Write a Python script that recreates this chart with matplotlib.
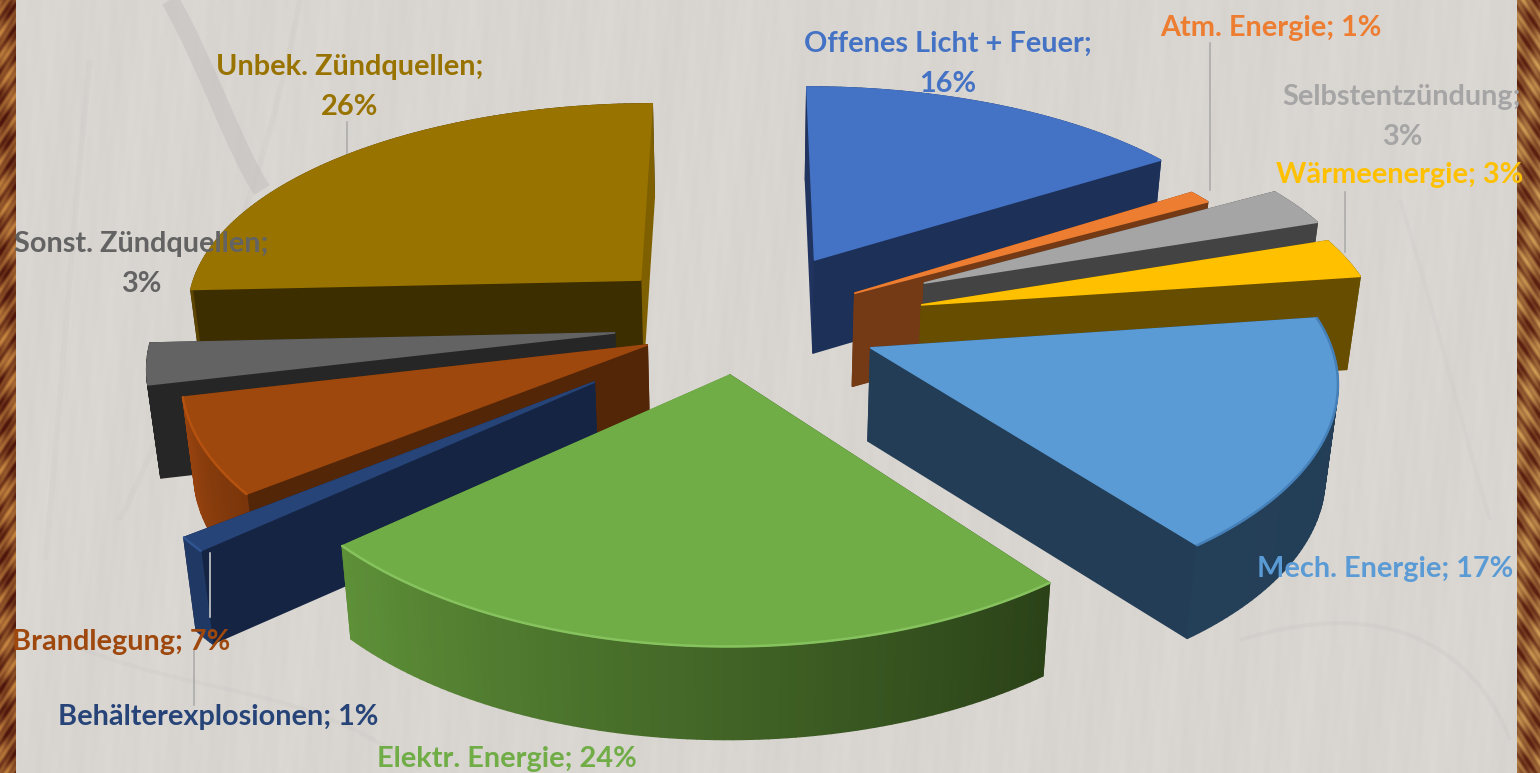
import numpy as np
import matplotlib
matplotlib.use("Agg")
import matplotlib.pyplot as plt
from matplotlib.colors import to_rgb
from matplotlib.patches import Polygon, PathPatch
from matplotlib.path import Path

# ---- data ----
categories = ["Offenes Licht + Feuer", "Atm. Energie", "Selbstentzündung", "Wärmeenergie",
              "Mech. Energie", "Elektr. Energie", "Behälterexplosionen", "Brandlegung",
              "Sonst. Zündquellen", "Unbek. Zündquellen"]
values = [16, 1, 3, 3, 17, 24, 1, 7, 3, 26]

# ---- style ----
explode = [0.295, 0.255, 0.416, 0.383, 0.311, 0.283, 0.44, 0.255, 0.293, 0.275]
explode_dir = [31.6, 69.6, 70.7, 85.0, 121.6, 186.3, 225.0, 234.0, 250.9, 303.6]
radius = [0.99, 0.95, 0.96, 0.98, 0.97, 0.98, 0.96, 0.97, 0.98, 0.98]
top_col = ["#4472c4", "#ed7d31", "#a5a5a5", "#ffc000", "#5b9bd5", "#70ad47", "#264478", "#9e480e", "#636363", "#997300"]
face_col = ["#20345f", "#743a16", "#434343", "#664d00", "#223d55", "#2c4319", "#142442", "#542608", "#262626", "#3d2e00"]
end_col = ["#1d3058", "#743a16", "#434343", "#664d00", "#223d55", "#5b8c39", "#142442", "#542608", "#262626", "#7f6000"]
outer_a = ["#20345f", "#743a16", "#434343", "#664d00", "#223d55", "#2b4218", "#1f3864", "#7a360a", "#262626", "#5c4500"]
outer_b = ["#20345f", "#743a16", "#434343", "#664d00", "#243f58", "#5e9038", "#1f3864", "#9a4410", "#262626", "#3d2e00"]
rim_col = [None, None, None, None, "#4680b8", "#86c25e", "#2f5490", "#b5520f", None, None]
order = [9, 8, 7, 6, 0, 1, 2, 3, 4, 5]

W, H_px = 1540, 773
CX, CY, A, B, PX, PY, TH, K = 745, 312, 465, 215, 0.13, 0.15, 93, 0.022

plt.rcParams["font.family"] = ["Lato", "DejaVu Sans"]
fig = plt.figure(figsize=(W / 100, H_px / 100), dpi=100)
ax = fig.add_axes([0, 0, 1, 1])
ax.axis("off")

# ---- background ----
yy, xx = np.mgrid[0:H_px, 0:W]
tex = (0.30 * np.sin(xx / 7.3 + yy / 61.0) + 0.25 * np.sin(xx / 3.1 - yy / 37.0)
       + 0.25 * np.sin(xx / 23.0 + yy / 90.0) + 0.20 * np.sin(xx / 1.7 + yy / 17.0))
base = np.array(to_rgb("#d9d5d1"))
ax.imshow(base[None, None, :] + tex[:, :, None] * 0.012, extent=(0, W, H_px, 0), aspect="auto", zorder=0,
          interpolation="bilinear")
grain = [
    [(170, 0), (205, 60), (235, 150), (262, 190)],
    [(90, 60), (70, 250), (60, 420), (45, 560)],
    [(300, 0), (270, 160), (210, 330), (120, 520)],
    [(1240, 640), (1400, 590), (1480, 660), (1510, 740)],
    [(60, 640), (200, 700), (300, 680), (420, 770)],
    [(1400, 200), (1440, 330), (1460, 420), (1490, 520)],
]
lws = [13, 4, 4, 3, 3, 3]
alphas = [0.6, 0.18, 0.18, 0.22, 0.18, 0.15]
codes = [Path.MOVETO, Path.CURVE4, Path.CURVE4, Path.CURVE4]
for g, lw, al in zip(grain, lws, alphas):
    ax.add_patch(PathPatch(Path(g, codes), fc="none", ec="#c4c1bf", lw=lw, alpha=al, zorder=0.5))


def wood(width, dark, light):
    y, x = np.mgrid[0:H_px, 0:width]
    t = (0.42 + 0.22 * np.sin(y / 4.1 + x * 0.25) + 0.14 * np.sin(y / 1.7 + 1 + x * 0.9)
         + 0.16 * np.sin(y / 23.0 - x * 0.2))
    t = np.clip(t, 0, 1)[:, :, None]
    d, l = np.array(to_rgb(dark)), np.array(to_rgb(light))
    return d[None, None, :] * (1 - t) + l[None, None, :] * t


ax.imshow(wood(16, "#4f170c", "#d08f45"), extent=(0, 16, H_px, 0), aspect="auto", zorder=1)
ax.imshow(wood(23, "#5a2010", "#d8a65a")[::-1], extent=(1517, W, H_px, 0), aspect="auto", zorder=1)
ax.set_xlim(0, W)
ax.set_ylim(H_px, 0)


def proj(u, v, z=0.0):
    u, v = np.asarray(u, float), np.asarray(v, float)
    sx = CX + A * u / (1 + PX * v)
    sy = CY - B * v / (1 + PY * v) + TH * z
    sx = sx + (CX - sx) * K * z
    return np.column_stack([sx, sy])


total = sum(values)
edges = np.cumsum([0] + values) / total * 2 * np.pi


def poly(pts, fc, z, lw=1.2):
    ax.add_patch(Polygon(pts, closed=True, fc=fc, ec=fc, lw=lw, joinstyle="round", zorder=z))


base_z = 5
for rank, i in enumerate(order):
    t0, t1 = edges[i], edges[i + 1]
    d = np.radians(explode_dir[i])
    ou, ov = explode[i] * np.sin(d), explode[i] * np.cos(d)
    th = np.linspace(t0, t1, max(8, int((t1 - t0) * 60)))
    au, av = ou + radius[i] * np.sin(th), ov + radius[i] * np.cos(th)
    z = base_z + rank
    faces = []
    for a, col in ((0, face_col[i]), (-1, end_col[i])):
        pu = np.array([ou, au[a]])
        pv = np.array([ov, av[a]])
        q = np.vstack([proj(pu, pv, 0), proj(pu[::-1], pv[::-1], 1)])
        faces.append((pv.mean(), q, col))
    ca, cb = np.array(to_rgb(outer_a[i])), np.array(to_rgb(outer_b[i]))
    n = len(th) - 1
    for k in range(n):
        pu = au[k:k + 2]
        pv = av[k:k + 2]
        q = np.vstack([proj(pu, pv, 0), proj(pu[::-1], pv[::-1], 1)])
        f = k / max(n - 1, 1)
        faces.append((pv.mean(), q, tuple(ca * (1 - f) + cb * f)))
    faces.sort(key=lambda x: -x[0])
    for _, q, c in faces:
        poly(q, c, z)
    poly(np.vstack([proj([ou], [ov], 0), proj(au, av, 0)]), top_col[i], z + 0.5)
    if rim_col[i]:
        arc = proj(au, av, 0)
        ax.plot(arc[:, 0], arc[:, 1], color=rim_col[i], lw=1.8, zorder=z + 0.6, solid_capstyle="round")

# ---- labels ----
labels = [
    ("Offenes Licht + Feuer;\n16%", 948, 64, "#4472c4"),
    ("Atm. Energie; 1%", 1271, 28, "#ed7d31"),
    ("Selbstentzündung;\n3%", 1402, 117, "#a5a5a5"),
    ("Wärmeenergie; 3%", 1400, 175, "#ffc000"),
    ("Mech. Energie; 17%", 1385, 569, "#5b9bd5"),
    ("Elektr. Energie; 24%", 507, 759, "#70ad47"),
    ("Behälterexplosionen; 1%", 218, 717, "#264478"),
    ("Brandlegung; 7%", 121, 642, "#9e480e"),
    ("Sonst. Zündquellen;\n3%", 141, 264, "#636363"),
    ("Unbek. Zündquellen;\n26%", 350, 87, "#997300"),
]
for s, x, y, c in labels:
    ax.text(x, y, s, color=c, ha="center", va="center", fontsize=20.8, fontweight="bold",
            linespacing=1.68, zorder=40)

leaders = [((347, 347), (122, 153), "#a9a9a9"), ((1210, 1210), (43, 190), "#a9a9a9"),
           ((1345, 1345), (192, 252), "#a9a9a9"), ((210, 210), (553, 617), "#d9d9d9"),
           ((194, 194), (650, 705), "#a9a9a9")]
for xs, ys_, c in leaders:
    ax.plot(xs, ys_, color=c, lw=1.1, zorder=39)

fig.savefig("out.png", dpi=100)
